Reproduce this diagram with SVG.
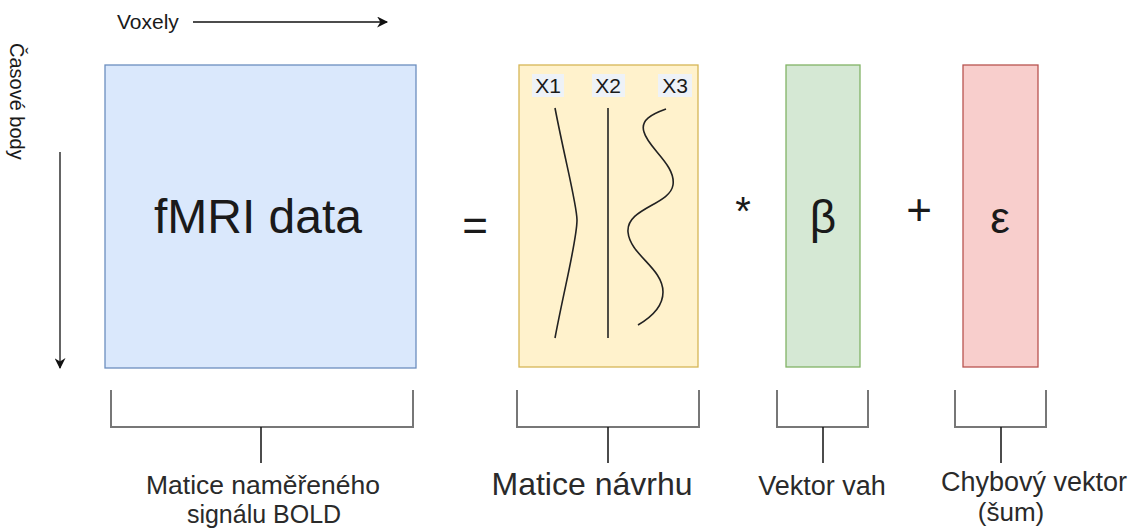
<svg xmlns="http://www.w3.org/2000/svg" width="1138" height="531" viewBox="0 0 1138 531">
  <style>
    text { font-family: "Liberation Sans", Arial, sans-serif; fill: #1a1a1a; }
    .big { font-size: 44px; text-anchor: middle; }
    .lbl { font-size: 25px; text-anchor: middle; fill: #2a2a2a; }
    .xl { font-size: 21px; text-anchor: middle; }
    .bracket { fill: none; stroke: #777; stroke-width: 2; }
    .stem { stroke: #111; stroke-width: 1.5; }
    .curve { fill: none; stroke: #222; stroke-width: 1.6; }
    .axis { stroke: #111; stroke-width: 1.3; fill: none; }
  </style>
  <defs>
    <marker id="arrow" viewBox="0 0 10 10" refX="9" refY="5" markerWidth="12" markerHeight="11" markerUnits="userSpaceOnUse" orient="auto">
      <path d="M0,0 L10,5 L0,10 L3,5 Z" fill="#111"/>
    </marker>
  </defs>
  <rect width="1138" height="531" fill="#ffffff"/>

  <!-- axis labels -->
  <g id="axis-voxels">
    <text x="117" y="29" style="font-size:21px">Voxely</text>
  </g>
  <g id="axis-time">
    <text transform="translate(10,43) rotate(90)" style="font-size:20px">Časové body</text>
  </g>

  <!-- fMRI data matrix -->
  <g id="data">
    <rect x="105" y="65" width="311" height="303" fill="#dae8fc" stroke="#6c8ebf" stroke-width="1.3"/>
    <text class="big" x="258" y="233" style="font-size:48px">fMRI data</text>
  </g>

  <g id="equals"><text class="big" x="475" y="241">=</text></g>

  <!-- design matrix with regressors -->
  <g id="design">
    <rect x="519" y="65" width="179" height="302" fill="#fff2cc" stroke="#d6b656" stroke-width="1.3"/>
    <rect x="532" y="74" width="32" height="23" fill="#eef2f7"/>
    <rect x="592" y="74" width="33" height="23" fill="#eef2f7"/>
    <rect x="658" y="74" width="34" height="23" fill="#eef2f7"/>
    <text class="xl" x="548" y="93">X1</text>
    <text class="xl" x="608" y="93">X2</text>
    <text class="xl" x="675" y="93">X3</text>
    <path class="curve" d="M555,108 C565,160 577,205 577,220 C577,240 565,285 555,338"/>
    <path class="curve" d="M608,108 L608,338"/>
    <path class="curve" d="M666,109 C652,114 640,120 644,132 C648,148 676,165 673,185 C670,205 626,208 628,232 C630,255 663,268 663,292 C663,308 650,318 638,325"/>
  </g>

  <g id="times"><text class="big" x="743" y="225" style="font-size:40px">*</text></g>

  <!-- weights vector -->
  <g id="beta">
    <rect x="786" y="65" width="74" height="302" fill="#d5e8d4" stroke="#82b366" stroke-width="1.3"/>
    <text class="big" x="823" y="233" style="font-size:46px">β</text>
  </g>

  <g id="plus"><text class="big" x="919" y="225">+</text></g>

  <!-- error vector -->
  <g id="epsilon">
    <rect x="963" y="65" width="75" height="302" fill="#f8cecc" stroke="#b85450" stroke-width="1.3"/>
    <text class="big" x="1000" y="233">ε</text>
  </g>

  <!-- connectors: axis arrows and braces -->
  <g id="connectors">
    <line class="axis" x1="193" y1="22" x2="387" y2="22" marker-end="url(#arrow)"/>
    <line class="axis" x1="60" y1="152" x2="60" y2="368" marker-end="url(#arrow)"/>

    <path class="bracket" d="M111,390 V427 H413 V390"/>
    <line class="stem" x1="261" y1="427" x2="261" y2="463"/>

    <path class="bracket" d="M517,390 V427 H699 V390"/>
    <line class="stem" x1="608" y1="427" x2="608" y2="463"/>

    <path class="bracket" d="M777,390 V427 H868 V390"/>
    <line class="stem" x1="823" y1="427" x2="823" y2="463"/>

    <path class="bracket" d="M955,390 V427 H1046 V390"/>
    <line class="stem" x1="1001" y1="427" x2="1001" y2="463"/>
  </g>

  <!-- captions -->
  <g id="caption-data">
    <text class="lbl" x="263" y="494" textLength="234" lengthAdjust="spacingAndGlyphs">Matice naměřeného</text>
    <text class="lbl" x="264" y="523">signálu BOLD</text>
  </g>
  <g id="caption-design">
    <text class="lbl" x="592" y="495" style="font-size:32px">Matice návrhu</text>
  </g>
  <g id="caption-beta">
    <text class="lbl" x="822" y="495" style="font-size:27px">Vektor vah</text>
  </g>
  <g id="caption-epsilon">
    <text class="lbl" x="1034" y="491" style="font-size:27px">Chybový vektor</text>
    <text class="lbl" x="1011" y="521" style="font-size:26px">(šum)</text>
  </g>
</svg>
